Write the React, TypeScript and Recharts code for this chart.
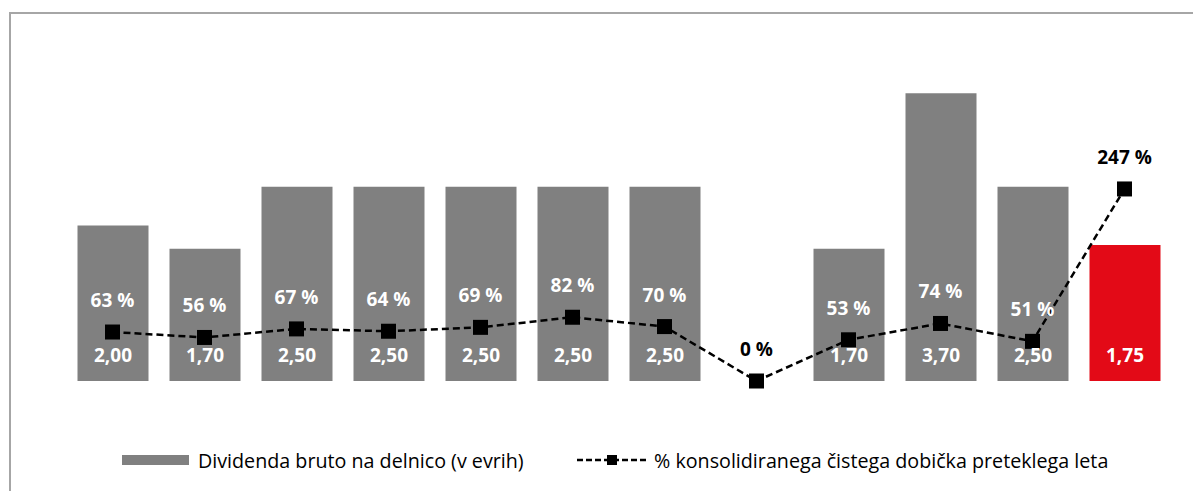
import React from "react";
import { ComposedChart, Bar, Line, XAxis, YAxis, Cell, LabelList, Legend } from "recharts";

const categories = ["2008", "2009", "2010", "2011", "2012", "2013", "2014", "2015", "2016", "2017", "2018", "2019"];
const dividend = [2.0, 1.7, 2.5, 2.5, 2.5, 2.5, 2.5, 0, 1.7, 3.7, 2.5, 1.75];
const payoutPct = [63, 56, 67, 64, 69, 82, 70, 0, 53, 74, 51, 247];
const legendNames = ["Dividenda bruto na delnico (v evrih)", "% konsolidiranega čistega dobička preteklega leta"];

const data = categories.map((c, i) => ({
  name: c,
  dividend: dividend[i],
  pct: payoutPct[i] / 100,
  pctLabel: payoutPct[i],
}));

const GREY = "#808080";
const RED = "#e30a17";
const FONT = "'Open Sans', sans-serif";

const SquareDot = (props: any) => {
  const { cx, cy } = props;
  if (cx == null || cy == null) return null;
  return <rect x={cx - 7.5} y={cy - 7.5} width={15} height={15} fill="#000" />;
};

const ValueLabel = (props: any) => {
  const { x, y, width, height, value } = props;
  if (!value) return null;
  return (
    <text
      x={x + width / 2}
      y={y + height - 26}
      textAnchor="middle"
      dominantBaseline="central"
      fill="#fff"
      fontFamily={FONT}
      fontWeight={700}
      fontSize={19}
    >
      {Number(value).toFixed(2).replace(".", ",")}
    </text>
  );
};

const PctLabel = (props: any) => {
  const { x, y, value, index } = props;
  const inside = dividend[index] > payoutPct[index] / 100;
  return (
    <text
      x={x}
      y={y - 32}
      textAnchor="middle"
      dominantBaseline="central"
      fill={inside ? "#fff" : "#000"}
      fontFamily={FONT}
      fontWeight={700}
      fontSize={19}
    >
      {`${value} %`}
    </text>
  );
};

const LegendContent = () => (
  <div style={{ position: "relative", height: 24, fontFamily: FONT, fontSize: 19.7, color: "#000" }}>
    <div style={{ position: "absolute", left: 0, top: 0, height: 24, display: "flex", alignItems: "center", whiteSpace: "nowrap" }}>
      <div style={{ width: 67, height: 10, background: GREY, marginRight: 9 }} />
      <span>{legendNames[0]}</span>
    </div>
    <div style={{ position: "absolute", left: 455, top: 0, height: 24, display: "flex", alignItems: "center", whiteSpace: "nowrap" }}>
      <svg width={70} height={14} style={{ marginRight: 7 }}>
        <line x1={0} y1={7} x2={70} y2={7} stroke="#000" strokeWidth={2.5} strokeDasharray="6 3" />
        <rect x={30} y={2} width={10} height={10} fill="#000" />
      </svg>
      <span>{legendNames[1]}</span>
    </div>
  </div>
);

export default function App() {
  return (
    <div style={{ position: "relative", width: 1193, height: 483, overflow: "hidden", background: "#fff" }}>
      <div
        style={{
          position: "absolute",
          left: 1,
          top: 4,
          right: 0,
          bottom: 0,
          borderLeft: "2px solid #a6a6a6",
          borderTop: "2px solid #a6a6a6",
        }}
      />
      <ComposedChart
        width={1193}
        height={483}
        data={data}
        margin={{ top: 62, right: 30.5, left: 58.5, bottom: 110 }}
        barCategoryGap={21}
        style={{ position: "absolute", left: 0, top: 0 }}
      >
        <XAxis dataKey="name" hide />
        <YAxis hide domain={[0, 4]} />
        <Legend
          layout="horizontal"
          verticalAlign="middle"
          align="center"
          wrapperStyle={{ top: 440, left: 114, width: 1000 }}
          content={<LegendContent />}
        />
        <Bar dataKey="dividend" barSize={71} isAnimationActive={false} name={legendNames[0]}>
          {data.map((_, i) => (
            <Cell key={i} fill={i === data.length - 1 ? RED : GREY} />
          ))}
          <LabelList dataKey="dividend" content={<ValueLabel />} />
        </Bar>
        <Line
          dataKey="pct"
          type="linear"
          stroke="#000"
          strokeWidth={2.5}
          strokeDasharray="7 4"
          dot={<SquareDot />}
          activeDot={false}
          isAnimationActive={false}
          name={legendNames[1]}
        >
          <LabelList dataKey="pctLabel" content={<PctLabel />} />
        </Line>
      </ComposedChart>
    </div>
  );
}
